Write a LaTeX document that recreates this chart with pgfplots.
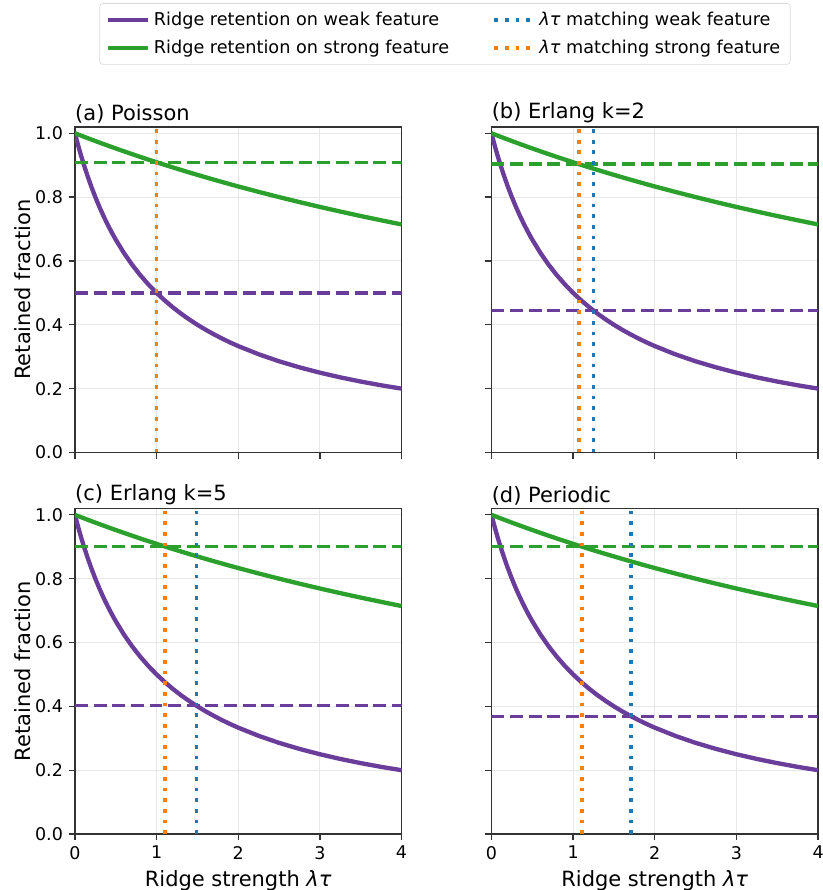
\documentclass[border=0pt]{standalone}
\usepackage{fontspec}
\setmainfont{DejaVu Sans}
\usepackage{pgfplots}
\usepackage{pgfplotstable}
\pgfplotsset{compat=1.18}
\usepgfplotslibrary{groupplots}
\usetikzlibrary{calc}

\definecolor{cweak}{HTML}{6A3D9A}
\definecolor{cstrong}{HTML}{2CA02C}
\definecolor{cblue}{HTML}{1F77B4}
\definecolor{corange}{HTML}{FF7F0E}

% retention curves, same in every panel
\pgfplotstableread{
x     weak    strong
0.000 1.0000  1.0000
0.025 0.9756  0.9975
0.050 0.9524  0.9950
0.075 0.9302  0.9926
0.100 0.9091  0.9901
0.150 0.8696  0.9852
0.200 0.8333  0.9804
0.250 0.8000  0.9756
0.300 0.7692  0.9709
0.350 0.7407  0.9662
0.400 0.7143  0.9615
0.450 0.6897  0.9569
0.500 0.6667  0.9524
0.600 0.6250  0.9434
0.700 0.5882  0.9346
0.800 0.5556  0.9259
0.900 0.5263  0.9174
1.000 0.5000  0.9091
1.100 0.4762  0.9009
1.200 0.4545  0.8929
1.300 0.4348  0.8850
1.400 0.4167  0.8772
1.500 0.4000  0.8696
1.600 0.3846  0.8621
1.700 0.3704  0.8547
1.800 0.3571  0.8475
1.900 0.3448  0.8403
2.000 0.3333  0.8333
2.250 0.3077  0.8163
2.500 0.2857  0.8000
2.750 0.2667  0.7843
3.000 0.2500  0.7692
3.250 0.2353  0.7547
3.500 0.2222  0.7407
3.750 0.2105  0.7273
4.000 0.2000  0.7143
}\curves

\pgfplotsset{
  curve/.style={line width=2.6pt},
  hdash/.style={line width=2.1pt, dash pattern=on 7.8pt off 3.4pt},
  vdot/.style={line width=2.2pt, dash pattern=on 2.2pt off 4.2pt},
}

\begin{document}
\begin{tikzpicture}
\begin{groupplot}[
  group style={group size=2 by 2, horizontal sep=54pt, vertical sep=33.6pt,
    xticklabels at=edge bottom, yticklabels at=edge left,
    xlabels at=edge bottom, ylabels at=edge left},
  width=196.2pt, height=195.6pt, scale only axis,
  xmin=0, xmax=4, ymin=0, ymax=1.02,
  xtick={0,1,2,3,4}, ytick={0,0.2,0.4,0.6,0.8,1.0},
  yticklabel style={/pgf/number format/.cd, fixed, fixed zerofill, precision=1},
  /pgf/number format/assume math mode=true,
  tick label style={font=\fontsize{10.5}{12}\selectfont},
  label style={font=\fontsize{12.6}{15}\selectfont},
  xlabel={Ridge strength \textit{λτ}},
  ylabel={Retained fraction},
  ylabel style={yshift=-4pt},
  title style={at={(0,1)}, anchor=south west, inner sep=0pt, yshift=-4pt,
    font=\fontsize{12.6}{15}\selectfont},
  axis line style={draw=black!80, line width=0.8pt},
  tick style={draw=black!80, line width=0.8pt},
  tick align=outside, major tick length=3.7pt,
  xtick pos=bottom, ytick pos=left,
  grid=major, grid style={gray!18, line width=0.6pt},
  clip=true,
  legend image code/.code={\draw[#1] (0pt,0pt) -- (24pt,0pt);},
]
% (a) Poisson
\nextgroupplot[title={(a) Poisson},
  legend columns=2, legend cell align=left,
  legend style={at={(1.133,1.38)}, anchor=north, draw=gray!30, rounded corners=2pt,
    font=\fontsize{10.6}{12.6}\selectfont, inner xsep=4pt, inner ysep=3pt,
    /tikz/every even column/.append style={column sep=24pt},
    row sep=3.5pt},
]
\coordinate (tl) at (rel axis cs:0,1);
\addlegendimage{cweak, curve}
\addlegendentry{Ridge retention on weak feature}
\addlegendimage{cblue, vdot}
\addlegendentry{\textit{λτ} matching weak feature}
\addlegendimage{cstrong, curve}
\addlegendentry{Ridge retention on strong feature}
\addlegendimage{corange, vdot}
\addlegendentry{\textit{λτ} matching strong feature}
\addplot[cweak, curve, forget plot] table[x=x, y=weak] {\curves};
\addplot[cstrong, curve, forget plot] table[x=x, y=strong] {\curves};
\addplot[cweak, hdash, forget plot] coordinates {(0,0.500) (4,0.500)};
\addplot[cstrong, hdash, forget plot] coordinates {(0,0.909) (4,0.909)};
\addplot[cblue, vdot, forget plot] coordinates {(1.00,0) (1.00,1.02)};
\addplot[corange, vdot, forget plot] coordinates {(1.00,0) (1.00,1.02)};

% (b) Erlang k=2
\nextgroupplot[title={(b) Erlang k=2}]
\addplot[cweak, curve] table[x=x, y=weak] {\curves};
\addplot[cstrong, curve] table[x=x, y=strong] {\curves};
\addplot[cweak, hdash] coordinates {(0,0.444) (4,0.444)};
\addplot[cstrong, hdash] coordinates {(0,0.903) (4,0.903)};
\addplot[cblue, vdot] coordinates {(1.25,0) (1.25,1.02)};
\addplot[corange, vdot] coordinates {(1.07,0) (1.07,1.02)};

% (c) Erlang k=5
\nextgroupplot[title={(c) Erlang k=5}]
\addplot[cweak, curve] table[x=x, y=weak] {\curves};
\addplot[cstrong, curve] table[x=x, y=strong] {\curves};
\addplot[cweak, hdash] coordinates {(0,0.402) (4,0.402)};
\addplot[cstrong, hdash] coordinates {(0,0.901) (4,0.901)};
\addplot[cblue, vdot] coordinates {(1.49,0) (1.49,1.02)};
\addplot[corange, vdot] coordinates {(1.10,0) (1.10,1.02)};

% (d) Periodic
\nextgroupplot[title={(d) Periodic}]
\coordinate (br) at (rel axis cs:1,0);
\addplot[cweak, curve] table[x=x, y=weak] {\curves};
\addplot[cstrong, curve] table[x=x, y=strong] {\curves};
\addplot[cweak, hdash] coordinates {(0,0.368) (4,0.368)};
\addplot[cstrong, hdash] coordinates {(0,0.900) (4,0.900)};
\addplot[cblue, vdot] coordinates {(1.71,0) (1.71,1.02)};
\addplot[corange, vdot] coordinates {(1.11,0) (1.11,1.02)};
\end{groupplot}
\pgfresetboundingbox
\path[use as bounding box] ($(tl)+(-45pt,76.2pt)$) rectangle ($(br)+(2.4pt,-33.6pt)$);
\end{tikzpicture}
\end{document}
